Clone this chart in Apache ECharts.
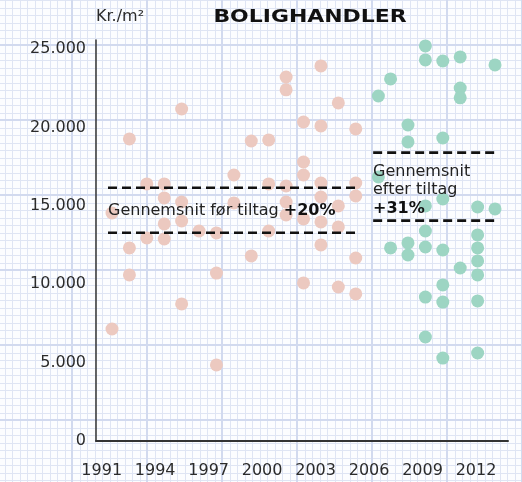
<!DOCTYPE html>
<html><head><meta charset="utf-8">
<script src="https://cdn.jsdelivr.net/npm/echarts@6/dist/echarts.min.js"></script>
<style>
html,body{margin:0;padding:0;background:#fcfdff;}
#c{width:522px;height:482px;
background-color:#fcfdff;
background-image:
 linear-gradient(to right, #d2daef 0, #d2daef 2px, transparent 2px),
 linear-gradient(to bottom, #d2daef 0, #d2daef 2px, transparent 2px),
 linear-gradient(to right, #dfe5f4 0, #dfe5f4 1px, transparent 1px, transparent 8px, #dfe5f4 8px, #dfe5f4 9px, transparent 9px),
 linear-gradient(to bottom, #dfe5f4 0, #dfe5f4 1px, transparent 1px, transparent 8px, #dfe5f4 8px, #dfe5f4 9px, transparent 9px);
background-size:75px 75px,75px 75px,15px 15px,15px 15px;
background-position:71px 44px,71px 44px,72px 45px,72px 45px;
}
</style></head>
<body><div id="c"></div>
<script>
// Data
const beforeYears  = [1991,1991, 1992,1992,1992, 1993,1993, 1994,1994,1994,1994, 1995,1995,1995,1995, 1996, 1997,1997,1997, 1998,1998, 1999,1999, 2000,2000,2000, 2001,2001,2001,2001,2001, 2002,2002,2002,2002,2002, 2003,2003,2003,2003,2003,2003, 2004,2004,2004,2004, 2005,2005,2005,2005,2005];
const beforeValues = [7140,14540, 19260,12310,10590, 16390,12950, 16390,15500,13840,12880, 21170,15240,14030,8740, 13390, 13270,10710,4850, 16960,15180, 19130,11800, 19200,16390,13390, 23210,22390,16260,15240,14410, 20340,17790,16960,14160,10080, 23920,20090,16450,15560,13970,12500, 21560,14990,13650,9820, 19900,16450,15630,11670,9380];
const afterYears   = [2006.3,2006.3, 2007,2007, 2008,2008,2008,2008, 2009,2009,2009,2009,2009,2009,2009, 2010,2010,2010,2010,2010,2010,2010, 2011,2011,2011,2011, 2012,2012,2012,2012,2012,2012,2012, 2013,2013];
const afterValues  = [22000,16840, 23090,12310, 20150,19070,12630,11860, 25190,24300,14990,13390,12370,9180,6630, 24230,19320,15430,12180,9950,8860,5290, 24490,22510,21880,11030, 14920,13140,12310,11480,10590,8930,5610, 23980,14800];
const beforeAvgLow = 13280, beforeAvgHigh = 16150;
const afterAvgLow = 14050, afterAvgHigh = 18390;
const beforeSpan = [1990.77, 2005.13];
const afterSpan = [2006.0, 2013.17];
const yearLabels = ['1991','1994','1997','2000','2003','2006','2009','2012'];
const yTickLabels = ['0','5.000','10.000','15.000','20.000','25.000'];

const FONT = '"DejaVu Sans"';
const zip = (xs, ys) => xs.map((x, i) => [x, ys[i]]);
const dash = (span, v) => ({
  type: 'line', xAxisIndex: 0, yAxisIndex: 0, data: [[span[0], v], [span[1], v]],
  showSymbol: false, symbol: 'none', silent: true, z: 5,
  lineStyle: { color: '#111', width: 2.6, type: [9, 5] }
});

const chart = echarts.init(document.getElementById('c'), null, { renderer: 'canvas' });
chart.setOption({
  animation: false,
  backgroundColor: 'transparent',
  grid: [
    { left: 96, right: 14, top: 40, bottom: 41, outerBoundsMode: 'none' },
    { left: 101.7, right: 46, top: 40, bottom: 41, outerBoundsMode: 'none' }
  ],
  xAxis: [
    { type: 'value', gridIndex: 0, min: 1990.081, max: 2013.745,
      axisLine: { show: true, onZero: false, lineStyle: { color: '#333', width: 2 } },
      axisTick: { show: false }, axisLabel: { show: false }, splitLine: { show: false } },
    { type: 'category', gridIndex: 1, data: yearLabels, boundaryGap: false,
      axisLine: { show: false }, axisTick: { show: false }, splitLine: { show: false },
      axisLabel: { interval: 0, margin: 22, color: '#2b2b2b', fontSize: 16, fontFamily: FONT } }
  ],
  yAxis: [
    { type: 'value', gridIndex: 0, min: 0, max: 25570, interval: 5000,
      axisLine: { show: true, lineStyle: { color: '#333', width: 1.5 } },
      axisTick: { show: false }, splitLine: { show: false },
      axisLabel: { margin: 10, color: '#2b2b2b', fontSize: 16, fontFamily: FONT,
        formatter: v => (v % 5000 === 0 ? yTickLabels[v / 5000] : '') } },
    { type: 'value', gridIndex: 1, min: 0, max: 25570, show: false }
  ],
  series: [
    { type: 'scatter', name: 'før', xAxisIndex: 0, yAxisIndex: 0, data: zip(beforeYears, beforeValues),
      symbolSize: 13, itemStyle: { color: '#ecc9c0', opacity: 1 }, z: 2 },
    { type: 'scatter', name: 'efter', xAxisIndex: 0, yAxisIndex: 0, data: zip(afterYears, afterValues),
      symbolSize: 13, itemStyle: { color: '#9dd5c3', opacity: 1 }, z: 2 },
    dash(beforeSpan, beforeAvgHigh), dash(beforeSpan, beforeAvgLow),
    dash(afterSpan, afterAvgHigh), dash(afterSpan, afterAvgLow)
  ],
  graphic: [
    { type: 'text', x: 96, y: 17, z: 10,
      style: { text: 'Kr./m²', font: '16px ' + FONT, fill: '#2b2b2b', textVerticalAlign: 'middle' } },
    { type: 'text', x: 310, y: 18, scaleX: 1.29, z: 10,
      style: { text: 'BOLIGHANDLER', font: 'bold 17px ' + FONT, fill: '#111', textAlign: 'center', textVerticalAlign: 'middle' } },
    { type: 'text', x: 108, y: 211, z: 10,
      style: { text: '{a|Gennemsnit før tiltag }{b|+20%}', textVerticalAlign: 'middle',
        rich: { a: { font: '16px ' + FONT, fill: '#222' }, b: { font: 'bold 16px ' + FONT, fill: '#111' } } } },
    { type: 'text', x: 373, y: 162, z: 10,
      style: { text: '{a|Gennemsnit}\n{a|efter tiltag}\n{b|+31%}', textVerticalAlign: 'top',
        rich: { a: { font: '16px ' + FONT, fill: '#222', lineHeight: 18.7 }, b: { font: 'bold 16px ' + FONT, fill: '#111', lineHeight: 18.7 } } } }
  ]
});
</script></body></html>
